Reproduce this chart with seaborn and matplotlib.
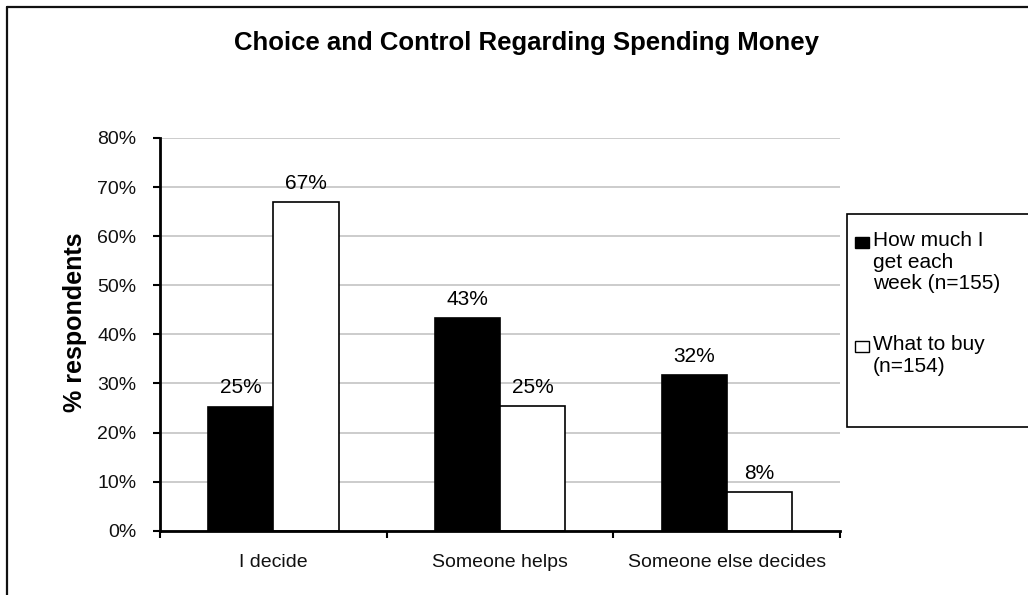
import matplotlib
matplotlib.use("Agg")
import matplotlib.pyplot as plt
from matplotlib.patches import Rectangle
from matplotlib.lines import Line2D
from matplotlib.ticker import FuncFormatter, FixedLocator
import seaborn as sns
import pandas as pd

# Survey answers (percent of respondents)
categories = ["I decide", "Someone helps", "Someone else decides"]
series_names = ["How much I get each week (n=155)", "What to buy (n=154)"]
legend_labels = ["How much I\nget each\nweek (n=155)", "What to buy\n(n=154)"]
how_much_values = [25.3, 43.4, 31.7]
what_to_buy_values = [67.0, 25.4, 7.8]
y_ticks = [0, 10, 20, 30, 40, 50, 60, 70, 80]

df = pd.DataFrame({
    "category": categories * 2,
    "series": [series_names[0]] * 3 + [series_names[1]] * 3,
    "value": how_much_values + what_to_buy_values,
})

sns.set_theme(style="white")
plt.rcParams["font.family"] = ["Liberation Sans", "DejaVu Sans"]

W, H = 1028, 595
fig = plt.figure(figsize=(W / 100, H / 100), dpi=100)
fig.patch.set_facecolor("white")

def fx(px):
    return px / W

def fy(py):
    return 1 - py / H

ax = fig.add_axes([fx(160), fy(530.7), fx(840) - fx(160), fy(138) - fy(530.7)])

palette = {series_names[0]: "black", series_names[1]: "white"}
sns.barplot(data=df, x="category", y="value", hue="series", order=categories,
            hue_order=series_names, palette=palette, width=0.575, gap=0,
            edgecolor="black", linewidth=1.2, saturation=1, legend=False, ax=ax)

for container in ax.containers:
    vals = [bar.get_height() for bar in container]
    ax.bar_label(container, labels=[f"{v:.0f}%" for v in vals],
                 padding=6.5, fontsize=15, color="black")

ax.set_ylim(0, 80)
ax.set_xlim(-0.5, 2.5)
ax.yaxis.set_major_locator(FixedLocator(y_ticks))
ax.yaxis.set_major_formatter(FuncFormatter(lambda v, p: f"{v:.0f}%"))
ax.grid(axis="y", color="#c4c4c4", linewidth=1.2)
ax.set_axisbelow(True)

for side in ["top", "right"]:
    ax.spines[side].set_visible(False)
for side in ["left", "bottom"]:
    ax.spines[side].set_color("black")
    ax.spines[side].set_linewidth(2)

ax.tick_params(axis="y", which="major", left=True, length=5, width=1.5,
               direction="out", color="black", pad=12, labelsize=14,
               labelcolor="#111111")
ax.tick_params(axis="x", which="major", bottom=False, length=0, pad=17,
               labelsize=14, labelcolor="#111111")
ax.xaxis.set_minor_locator(FixedLocator([-0.5, 0.5, 1.5, 2.5]))
ax.tick_params(axis="x", which="minor", bottom=True, length=5, width=1.5,
               direction="out", color="black")

ax.set_xlabel("")
ax.set_ylabel("% respondents", fontsize=18, fontweight="bold", color="black")
ax.yaxis.set_label_coords(-0.107, 0.531)

fig.text(fx(526.5), fy(43), "Choice and Control Regarding Spending Money",
         ha="center", va="center", fontsize=18.5, fontweight="bold", color="black")

# Legend box with square swatches
fig.patches.append(Rectangle((fx(847), fy(427)), fx(1030) - fx(847), fy(214) - fy(427),
                             transform=fig.transFigure, facecolor="white",
                             edgecolor="black", linewidth=1.2, zorder=1))
swatch_fill = ["black", "white"]
entry_tops = [237, 341]
for label, fill, top in zip(legend_labels, swatch_fill, entry_tops):
    fig.patches.append(Rectangle((fx(855), fy(top + 11)), fx(14), 11 / H,
                                 transform=fig.transFigure, facecolor=fill,
                                 edgecolor="black", linewidth=1.0, zorder=2))
    fig.text(fx(873), fy(top - 6), label, ha="left", va="top", fontsize=15,
             linespacing=1.17, color="black")

# Outer frame (left and top edges)
fig.add_artist(Line2D([fx(7), fx(7)], [0, fy(7)], transform=fig.transFigure,
                      color="#111111", linewidth=1.6))
fig.add_artist(Line2D([fx(7), 1], [fy(7), fy(7)], transform=fig.transFigure,
                      color="#111111", linewidth=1.6))

fig.savefig("out.png", dpi=100, facecolor="white")
